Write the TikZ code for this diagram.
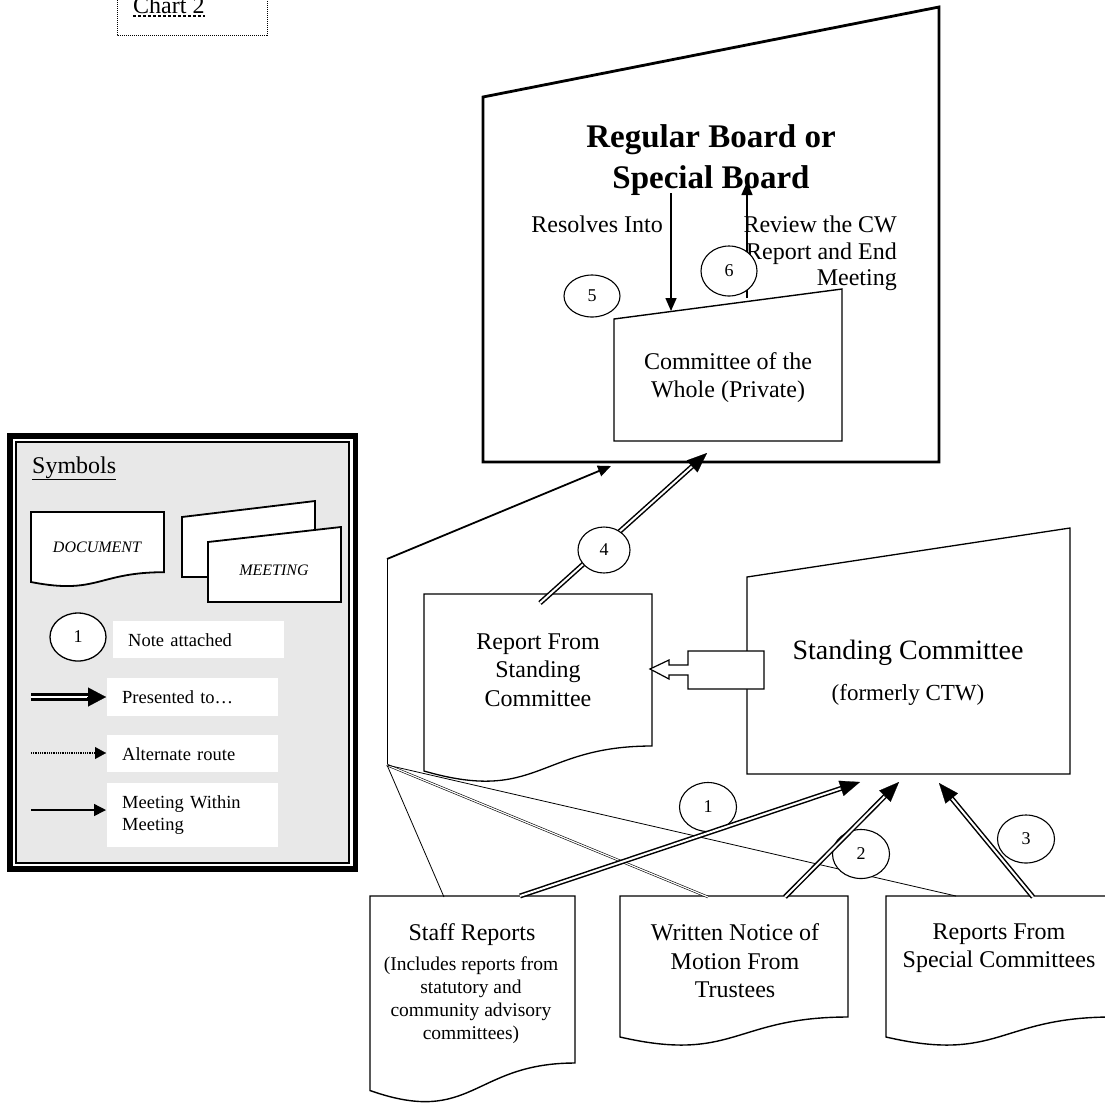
\documentclass[tikz,border=0pt]{standalone}
\usepackage{fontspec}
\setmainfont{Liberation Serif}
\usetikzlibrary{arrows.meta,calc,shapes.geometric}
\definecolor{legendgray}{RGB}{232,232,232}
\newcommand\presentarrow[2]{%
  \draw[present] (#1) -- ($(#2)!17pt!(#1)$);
  \draw[presenttip] ($(#2)!21pt!(#1)$) -- (#2);}
\begin{document}
\begin{tikzpicture}[x=1pt,y=-1pt,
  txt/.style={inner sep=0pt, align=center, font=\fontsize{24}{28.4}\selectfont},
  smalltxt/.style={inner sep=0pt, align=center, font=\fontsize{19.5}{23}\selectfont},
  legtxt/.style={fill=white, inner xsep=15pt, inner ysep=0pt, text width=141pt, align=left, font=\fontsize{18.5}{22}\selectfont, anchor=north west},
  numcirc/.style={ellipse, draw, fill=white, line width=1.1pt, inner sep=0pt, font=\fontsize{18}{20}\selectfont},
  meetshape/.style={draw, fill=white, line width=1.4pt, line join=miter},
  docshape/.style={draw, fill=white, line width=1.4pt},
  meetarrow/.style={line width=1.5pt, -{Triangle[length=13pt,width=11pt]}},
  present/.style={double, line width=1.5pt, double distance=2pt},
  presenttip/.style={line width=0.2pt, -{Triangle[length=20pt,width=16pt]}},
  altline/.style={line width=0.8pt},
  altdouble/.style={double, line width=0.6pt, double distance=1.2pt},
]
\useasboundingbox (0,0) rectangle (1105,1104);
\clip (0,0) rectangle (1105,1104);
\fill[white] (0,0) rectangle (1105,1104);

% ---------- Chart 2 label ----------
\draw[line width=1pt, dash pattern=on 1pt off 1pt] (117,-20) rectangle (267,35);
\node[inner sep=0pt, anchor=base west, font=\fontsize{24}{28}\selectfont] (chart) at (133,13) {Chart 2};
\draw[line width=1.4pt, dash pattern=on 3pt off 2pt] ($(chart.south west)+(0,2.5)$) -- ($(chart.south east)+(0,2.5)$);

% ---------- Legend ----------
\fill[black] (7,433) rectangle (358,872);
\fill[white] (13.3,439.3) rectangle (352.7,866);
\draw[fill=legendgray, line width=1.8pt] (16.3,442.3) rectangle (348.8,862.8);
\node[inner sep=0pt, anchor=base west, font=\fontsize{24}{28}\selectfont] (symbols) at (32,473) {\underline{Symbols}};
\draw[docshape, line width=1.8pt] (31,512) -- (164,512) -- (164,572.2) .. controls (97.5,572.2) and (97.5,595.1) .. (31,582) -- cycle;
\node[inner sep=0pt, font=\fontsize{16}{19}\selectfont\itshape] (docsym) at (97,547) {DOCUMENT};
\draw[meetshape, line width=1.8pt] (182,517) -- (315,501) -- (315,577) -- (182,577) -- cycle;
\draw[meetshape, line width=1.8pt] (208,542) -- (341,527) -- (341,602) -- (208,602) -- cycle;
\node[inner sep=0pt, font=\fontsize{16}{19}\selectfont\itshape] (meetsym) at (274,570) {MEETING};
\node[numcirc, line width=1.3pt, minimum width=56pt, minimum height=48pt] (legnum) at (78,637) {1};
\node[legtxt, minimum height=37pt] (notebox) at (113,621) {Note attached};
\node[legtxt, minimum height=38pt] (presbox) at (107,678) {Presented to…};
\node[legtxt, minimum height=37pt] (altbox) at (107,735) {Alternate route};
\node[legtxt, minimum height=64pt] (meetbox) at (107,783) {Meeting Within\\Meeting};
\coordinate (lpa) at (31,697);
\coordinate (lpb) at (106,697);
\draw[double, line width=2.3pt, double distance=2.5pt] (lpa) -- ($(lpb)!15pt!(lpa)$);
\draw[line width=0.2pt, -{Triangle[length=18pt,width=19pt]}] ($(lpb)!19pt!(lpa)$) -- (lpb);
\coordinate (laa) at (31,753);
\coordinate (lab) at (106,753);
\draw[line width=1.3pt, dash pattern=on 1pt off 0.8pt] (laa) -- ($(lab)!10pt!(laa)$);
\draw[line width=0.2pt, -{Triangle[length=11pt,width=12pt]}] ($(lab)!12pt!(laa)$) -- (lab);
\coordinate (lma) at (31,810);
\coordinate (lmb) at (106,810);
\draw[line width=1.5pt, -{Triangle[length=12pt,width=12pt]}] (lma) -- (lmb);

% ---------- Board and Committee of the Whole ----------
\draw[meetshape, line width=2.8pt] (483,97) -- (939,7) -- (939,462) -- (483,462) -- cycle;
\node[inner sep=0pt, align=center, anchor=north, font=\fontsize{33}{41}\selectfont\bfseries] (title) at (711,124.5) {Regular Board or\\Special Board};
\draw[meetshape, line width=1.4pt] (614,319) -- (842,289) -- (842,441) -- (614,441) -- cycle;
\node[txt, anchor=north] (cwtext) at (728,352) {Committee of the\\Whole (Private)};
\node[txt, anchor=base east] (resolves) at (663,232) {Resolves Into};
\node[txt, align=right, anchor=north east, font=\fontsize{24}{26.7}\selectfont] (review) at (897,215.6) {Review the CW\\Report and End\\Meeting};
\coordinate (resA) at (671,193);
\coordinate (resB) at (671,311);
\coordinate (revA) at (747,298);
\coordinate (revB) at (747,182);
\draw[meetarrow] (resA) -- (resB);
\draw[meetarrow] (revA) -- (revB);
\node[numcirc, minimum width=56pt, minimum height=42pt] (n5) at (592,296) {5};
\node[numcirc, minimum width=56pt, minimum height=50pt] (n6) at (729,271) {6};

% ---------- Standing Committee and its report ----------
\draw[meetshape, line width=1.3pt] (747,577) -- (1070,528) -- (1070,774) -- (747,774) -- cycle;
\node[inner sep=0pt, anchor=base, font=\fontsize{28}{32}\selectfont] (sctext) at (908,659) {Standing Committee};
\node[inner sep=0pt, anchor=base, font=\fontsize{23}{27}\selectfont] (sctext2) at (908,700) {(formerly CTW)};
\draw[docshape, line width=1.3pt] (424,594) -- (652,594) -- (652,746) .. controls (538,746) and (538,804) .. (424,771) -- cycle;
\node[txt, anchor=north] (reptext) at (538,633.6) {Report From\\Standing\\Committee};
\draw[fill=white, line width=1.2pt, line join=miter] (764,651) -- (688,651) -- (688,665) -- (669,665) -- (669,660) -- (650,669) -- (669,679) -- (669,675) -- (688,675) -- (688,689) -- (764,689) -- cycle;

% ---------- Bottom documents ----------
\draw[docshape] (370,896) -- (575,896) -- (575,1063) .. controls (472.5,1063) and (472.5,1126.7) .. (370,1090.5) -- cycle;
\node[txt, anchor=base] (stafftext) at (472,940) {Staff Reports};
\node[smalltxt, anchor=north] (staffnote) at (471,956.7) {(Includes reports from\\statutory and\\community advisory\\committees)};
\draw[docshape] (620,896) -- (848,896) -- (848,1017) .. controls (734,1017) and (734,1063.2) .. (620,1037) -- cycle;
\node[txt, anchor=north] (writtext) at (735,923.6) {Written Notice of\\Motion From\\Trustees};
\draw[docshape] (886,896) -- (1112,896) -- (1112,1017) .. controls (999,1017) and (999,1063.2) .. (886,1037) -- cycle;
\node[txt, anchor=north] (spectext) at (999,923.6) {Reports From\\Special Committees};

% ---------- Alternate routes ----------
\coordinate (junc) at (387,765);
\coordinate (bend) at (387,559);
\coordinate (boardin) at (611,466);
\coordinate (staffalt) at (444,897);
\coordinate (writalt) at (708,897);
\coordinate (specalt) at (956,896);
\draw[line width=1pt] (junc) -- (bend);
\draw[line width=1.8pt, -{Triangle[length=13pt,width=11pt]}] (bend) -- (boardin);
\draw[altline] (junc) -- (staffalt);
\draw[altdouble] (junc) -- (writalt);
\draw[altline] (junc) -- (specalt);

% ---------- Presented to ----------
\coordinate (reportout) at (540,603);
\coordinate (boardin2) at (707,453);
\presentarrow{reportout}{boardin2}
\node[numcirc, minimum width=52pt, minimum height=46pt] (n4) at (604,550) {4};
\node[numcirc, minimum width=57pt, minimum height=49pt] (n1) at (708,807) {1};
\node[numcirc, minimum width=57pt, minimum height=49pt] (n2) at (861,854) {2};
\node[numcirc, minimum width=57pt, minimum height=48pt] (n3) at (1026,839) {3};
\coordinate (staffout) at (520,896);
\coordinate (writout) at (785,897);
\coordinate (specout) at (1033,897);
\coordinate (scin1) at (860,782);
\coordinate (scin2) at (899,782);
\coordinate (scin3) at (939,783);
\presentarrow{staffout}{scin1}
\presentarrow{writout}{scin2}
\presentarrow{specout}{scin3}
\end{tikzpicture}
\end{document}
